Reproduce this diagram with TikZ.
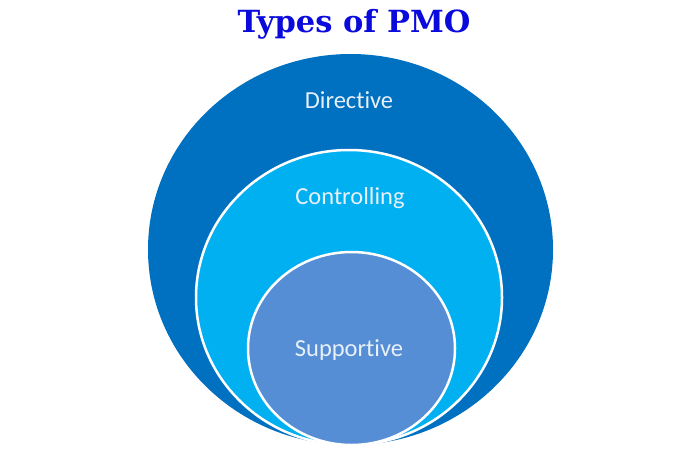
\documentclass[tikz,border=0pt]{standalone}
\usepackage{fontspec}
\setmainfont{Carlito}[RawFeature={-liga}]
\newfontfamily\titlefont{DejaVu Serif}
\usetikzlibrary{shapes.geometric}
\definecolor{outerblue}{RGB}{0,112,192}
\definecolor{midblue}{RGB}{0,176,240}
\definecolor{innerblue}{RGB}{85,142,213}
\definecolor{titleblue}{RGB}{10,10,220}
\definecolor{labelwhite}{RGB}{232,240,250}
\tikzset{
  ring/.style={ellipse, inner sep=0pt, outer sep=0pt},
  lbl/.style={text=labelwhite, font=\fontsize{24.5}{28}\selectfont, inner sep=0pt, anchor=base},
  titlestyle/.style={text=titleblue, font=\titlefont\bfseries\fontsize{30.5}{34}\selectfont, inner sep=0pt, anchor=base},
}
\begin{document}
\begin{tikzpicture}[x=1pt,y=-1pt]
\useasboundingbox[fill=white] (0,0) rectangle (700,450);
\node[titlestyle] (title) at (354,32) {Types of PMO};
\node[ring, fill=outerblue, minimum width=405pt, minimum height=391pt] (outer) at (350.5,249.5) {};
\node[ring, fill=midblue, draw=white, line width=2.5pt, minimum width=306pt, minimum height=295pt] (middle) at (349,297.5) {};
\node[ring, fill=innerblue, draw=white, line width=2.5pt, minimum width=207pt, minimum height=193pt] (inner) at (351.5,348.5) {};
\node[lbl] (dir) at (349,108) {Directive};
\node[lbl] (ctl) at (350,204) {Controlling};
\node[lbl] (sup) at (349,356) {Supportive};
\end{tikzpicture}
\end{document}
